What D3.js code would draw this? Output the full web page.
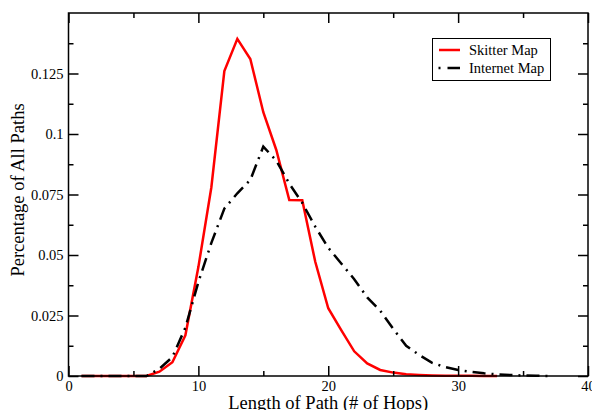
<!DOCTYPE html>
<html><head><meta charset="utf-8">
<script src="https://cdn.jsdelivr.net/npm/d3@7"></script>
<style>
body{margin:0;background:#fff;}
text{font-family:"Liberation Serif","Times New Roman",serif;fill:#000;}
</style></head><body>
<svg id="chart" width="592" height="410"></svg>
<script>
const hopsSkitter = d3.range(1, 34);
const skitterValues = [0,0,0,0,0,0,0.0018,0.0057,0.0168,0.045,0.078,0.126,0.1393,0.131,0.109,0.0934,0.0727,0.0726,0.0472,0.028,0.019,0.0102,0.0052,0.0025,0.0014,0.0007,0.0004,0.0002,0.0001,0.0001,0.0001,0,0];
const hopsInternet = d3.range(1, 38);
const internetValues = [0,0,0,0,0,0,0.003,0.0078,0.02,0.0388,0.055,0.0692,0.0755,0.081,0.0948,0.089,0.0795,0.0715,0.0617,0.053,0.0465,0.04,0.0325,0.027,0.0195,0.0125,0.0087,0.0054,0.0037,0.0025,0.0017,0.0011,0.0007,0.0004,0.0002,0.0001,0];
const xTicks = [0,10,20,30,40];
const xMinor = [5,15,25,35];
const yTicks = [0,0.025,0.05,0.075,0.1,0.125];
const yTickLabels = ["0","0.025","0.05","0.075","0.1","0.125"];
const yMinor = [0.0125,0.0375,0.0625,0.0875,0.1125,0.1375];
const seriesNames = ["Skitter Map","Internet Map"];

const svg = d3.select("#chart");
const L=68.5, R=588, T=13, B=376;
const x = d3.scaleLinear().domain([0,40]).range([L,R]);
const y = d3.scaleLinear().domain([0,0.15]).range([B,T]);

// lines
const line = d3.line().x(d=>x(d[0])).y(d=>y(d[1]));
svg.append("path").datum(hopsSkitter.map((h,i)=>[h,skitterValues[i]]))
  .attr("d",line).attr("fill","none").attr("stroke","#ff0000").attr("stroke-width",2.5).attr("stroke-linejoin","miter");
svg.append("path").datum(hopsInternet.map((h,i)=>[h,internetValues[i]]))
  .attr("d",line).attr("fill","none").attr("stroke","#000").attr("stroke-width",2.5)
  .attr("stroke-dasharray","13,6,2,6");

// frame
svg.append("rect").attr("x",L).attr("y",T).attr("width",R-L).attr("height",B-T)
  .attr("fill","none").attr("stroke","#000").attr("stroke-width",1.5);

// axes with inward ticks
svg.append("g").attr("transform",`translate(0,${B})`)
  .call(d3.axisBottom(x).tickValues(xTicks).tickSize(-10).tickPadding(5).tickFormat(d3.format("d")));
svg.append("g").attr("transform",`translate(0,${B})`)
  .call(d3.axisBottom(x).tickValues(xMinor).tickSize(-5).tickFormat(""));
svg.append("g").attr("transform",`translate(0,${T})`)
  .call(d3.axisTop(x).tickValues(xTicks).tickSize(-10).tickFormat(""));
svg.append("g").attr("transform",`translate(0,${T})`)
  .call(d3.axisTop(x).tickValues(xMinor).tickSize(-5).tickFormat(""));
svg.append("g").attr("transform",`translate(${L},0)`)
  .call(d3.axisLeft(y).tickValues(yTicks).tickSize(-10).tickPadding(5).tickFormat((d,i)=>yTickLabels[i]));
svg.append("g").attr("transform",`translate(${L},0)`)
  .call(d3.axisLeft(y).tickValues(yMinor).tickSize(-5).tickFormat(""));
svg.append("g").attr("transform",`translate(${R},0)`)
  .call(d3.axisRight(y).tickValues(yTicks).tickSize(-10).tickFormat(""));
svg.append("g").attr("transform",`translate(${R},0)`)
  .call(d3.axisRight(y).tickValues(yMinor).tickSize(-5).tickFormat(""));
svg.selectAll(".domain").remove();
svg.selectAll(".tick line").attr("stroke","#000").attr("stroke-width",1.5);
svg.selectAll(".tick text").style("font-family","'Liberation Serif',serif").style("font-size","14.5px").attr("fill","#000");

// axis titles
svg.append("text").attr("x",(L+R)/2).attr("y",409).attr("text-anchor","middle")
  .style("font-size","18.5px").text("Length of Path (# of Hops)");
svg.append("text").attr("transform","translate(24,190) rotate(-90)").attr("text-anchor","middle")
  .style("font-size","18.5px").text("Percentage of All Paths");

// legend
const lg = svg.append("g");
lg.append("rect").attr("x",432.5).attr("y",38.5).attr("width",118).attr("height",42)
  .attr("fill","#fff").attr("stroke","#000").attr("stroke-width",1);
lg.append("line").attr("x1",439).attr("x2",460).attr("y1",50).attr("y2",50)
  .attr("stroke","#ff0000").attr("stroke-width",2.5);
lg.append("line").attr("x1",438.5).attr("x2",460).attr("y1",68).attr("y2",68)
  .attr("stroke","#000").attr("stroke-width",2.5).attr("stroke-dasharray","2,7,13,6");
lg.append("text").attr("x",469).attr("y",55).style("font-size","14.5px").text(seriesNames[0]);
lg.append("text").attr("x",469).attr("y",73).style("font-size","14.5px").text(seriesNames[1]);
</script>
</body></html>
